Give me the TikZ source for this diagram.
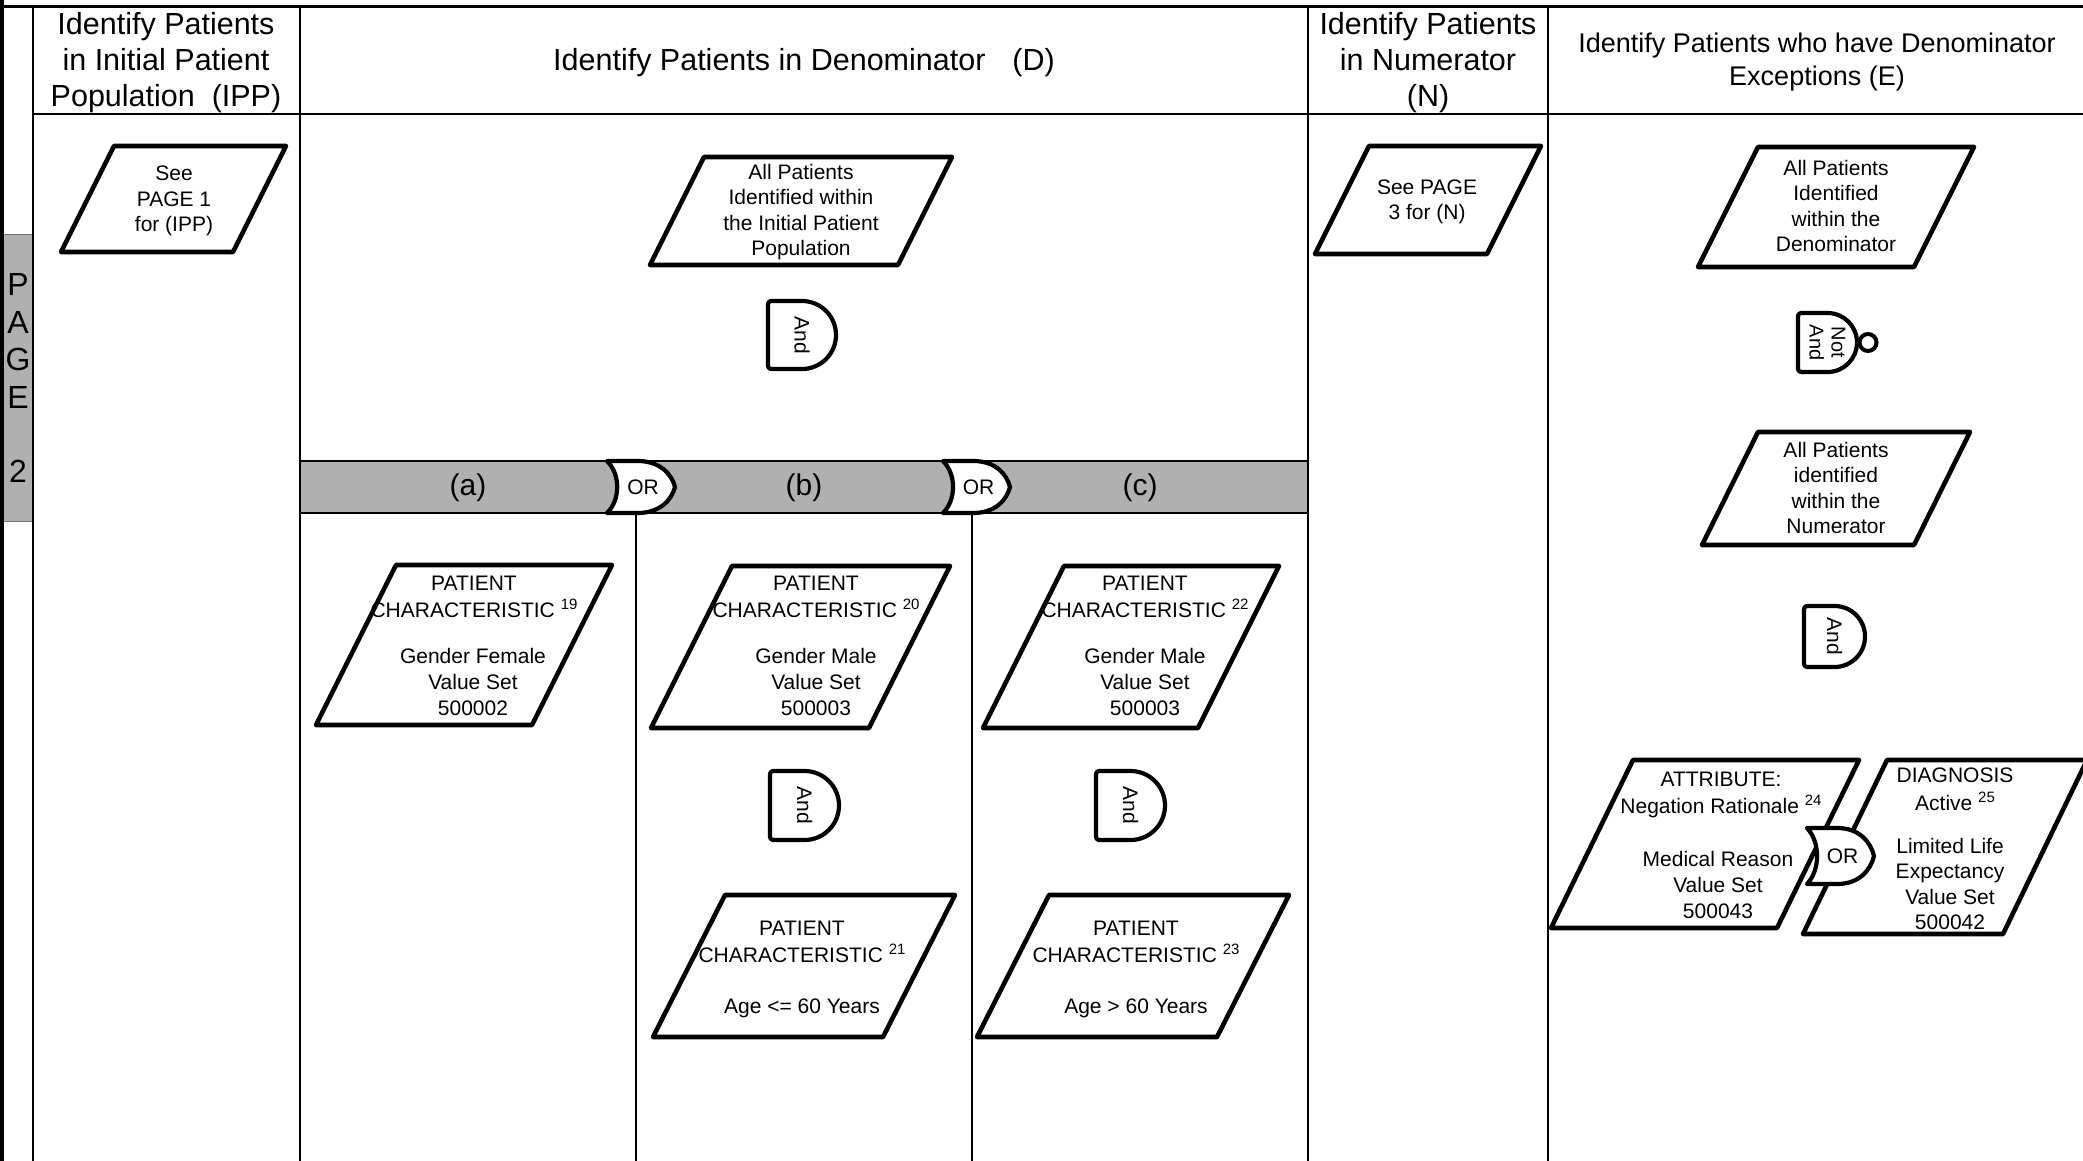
\documentclass[tikz,border=0pt]{standalone}
\usepackage{fontspec}
\setmainfont{Liberation Sans}
\definecolor{bandgray}{RGB}{176,176,176}
\newcommand\supnum[1]{\raisebox{8pt}{\fontsize{15}{15}\selectfont #1}}
% D-shaped AND gate: name, left, top, size
\newcommand\andgate[4]{%
  \pgfmathsetmacro\gtX{#2+#4/2}%
  \pgfmathsetmacro\gtY{#3+#4}%
  \pgfmathsetmacro\gtR{#4/2}%
  \draw[gateshape] (\gtX,#3) [rounded corners=3pt] -- (#2,#3) -- (#2,\gtY) [sharp corners] -- (\gtX,\gtY)
     arc[start angle=90, end angle=-90, radius=\gtR] -- cycle;
  \node[gatetext, rotate=-90] (#1) at (\gtX,#3+\gtR) {And};
}
% NAND gate with output bubble: name, left, top, size
\newcommand\nandgate[4]{%
  \pgfmathsetmacro\gtX{#2+#4/2}%
  \pgfmathsetmacro\gtY{#3+#4}%
  \pgfmathsetmacro\gtR{#4/2}%
  \draw[gateshape] (\gtX,#3) [rounded corners=3pt] -- (#2,#3) -- (#2,\gtY) [sharp corners] -- (\gtX,\gtY)
     arc[start angle=90, end angle=-90, radius=\gtR] -- cycle;
  \draw[line width=4pt, fill=white] (#2+#4+11,#3+\gtR) circle[radius=8.5];
  \node[gatetext, rotate=-90, align=center, font=\fontsize{20}{22}\selectfont] (#1) at (\gtX,#3+\gtR) {Not\\And};
}
% OR gate: name, left, top, width, height
\newcommand\orgate[5]{%
  \pgfmathsetmacro\gtR{#2+#4}%
  \pgfmathsetmacro\gtB{#3+#5}%
  \pgfmathsetmacro\gtM{#3+#5/2}%
  \pgfmathsetmacro\gtA{#2+0.45*#4}%
  \pgfmathsetmacro\gtC{#2+0.78*#4}%
  \pgfmathsetmacro\gtD{#2+0.95*#4}%
  \pgfmathsetmacro\gtU{#3+0.25*#5}%
  \pgfmathsetmacro\gtV{#3+0.75*#5}%
  \pgfmathsetmacro\gtK{#2+0.2*#4}%
  \draw[gateshape] (#2,#3) -- (\gtA,#3) .. controls (\gtC,#3) and (\gtD,\gtU) .. (\gtR,\gtM)
     .. controls (\gtD,\gtV) and (\gtC,\gtB) .. (\gtA,\gtB) -- (#2,\gtB)
     .. controls (\gtK,\gtV) and (\gtK,\gtU) .. (#2,#3) -- cycle;
  \node[gatetext] (#1) at (#2+0.53*#4,\gtM) {OR};
}
\begin{document}
\begin{tikzpicture}[x=1pt,y=-1pt,
  frame/.style={line width=2.5pt},
  subline/.style={line width=1.6pt},
  pbox/.style={draw, line width=4.6pt, line join=round, fill=white},
  gateshape/.style={draw, line width=4.2pt, line join=round, fill=white},
  head/.style={align=center, inner sep=0pt, font=\fontsize{30.5}{36}\selectfont},
  headE/.style={align=center, inner sep=0pt, font=\fontsize{27}{32.5}\selectfont},
  body/.style={align=center, inner sep=0pt, font=\fontsize{21}{25.6}\selectfont},
  bandlabel/.style={inner sep=0pt, font=\fontsize{30}{36}\selectfont},
  gatetext/.style={inner sep=0pt, font=\fontsize{21}{21}\selectfont},
  tabtext/.style={align=center, inner sep=0pt, font=\fontsize{32}{37.5}\selectfont},
]
\useasboundingbox (0,0) rectangle (2083,1161);
\fill[white] (0,0) rectangle (2083,1161);

% page tab on the left
\fill[bandgray] (3,235) rectangle (33,521);
\draw[line width=1pt, black!55] (3,235) -- (33,235) (3,521) -- (33,521);
\node[tabtext] (pagetab) at (18,378) {P\\A\\G\\E\\[37pt]2};

% shaded band of the denominator branches
\fill[bandgray] (300,461) rectangle (1308,513);
\draw[frame] (300,461) -- (1308,461) (300,513) -- (1308,513);

% swimlane frame
\draw[line width=4pt] (2,0) -- (2,1161);
\draw[line width=3pt] (0,6.5) -- (2083,6.5);
\draw[frame] (33,114) -- (2083,114);
\draw[frame] (33,6) -- (33,1161);
\draw[frame] (300,6) -- (300,1161);
\draw[frame] (1308,6) -- (1308,1161);
\draw[frame] (1548,6) -- (1548,1161);
\draw[subline] (636,513) -- (636,1161);
\draw[subline] (972,513) -- (972,1161);

% lane headings
\node[head] (hIPP) at (166,63) {Identify Patients\\in Initial Patient\\Population~~(IPP)};
\node[head] (hD) at (804,63) {Identify Patients in Denominator\hspace{27pt}(D)};
\node[head] (hN) at (1428,63) {Identify Patients\\in Numerator\\(N)};
\node[headE] (hE) at (1817,62) {Identify Patients who have Denominator\\Exceptions (E)};

% band labels
\node[bandlabel] (la) at (468,488) {(a)};
\node[bandlabel] (lb) at (804,488) {(b)};
\node[bandlabel] (lc) at (1140,488) {(c)};

% IPP lane
\draw[pbox] (61,252) -- (233,252) -- (286,146) -- (114,146) -- cycle;
\node[body] (ipp) at (174,201) {See\\PAGE 1\\for (IPP)};

% Denominator lane
\draw[pbox] (650,265) -- (898,265) -- (952,157) -- (704,157) -- cycle;
\node[body] (dall) at (801,212) {All Patients\\Identified within\\the Initial Patient\\Population};
\andgate{dand}{768}{301}{68}

\orgate{orab}{607}{461}{68}{52}
\orgate{orbc}{943}{461}{67}{52}

\draw[pbox] (316,725) -- (532,725) -- (612,565) -- (396,565) -- cycle;
\node[body] (aHead) at (474,597) {PATIENT\\[2pt]CHARACTERISTIC \supnum{19}};
\node[body] (aVal) at (473,682) {Gender Female\\Value Set\\500002};

\draw[pbox] (651,728) -- (869,728) -- (950,566) -- (732,566) -- cycle;
\node[body] (bHead) at (816,597) {PATIENT\\[2pt]CHARACTERISTIC \supnum{20}};
\node[body] (bVal) at (816,682) {Gender Male\\Value Set\\500003};
\andgate{band}{770}{771}{69}
\draw[pbox] (653,1037) -- (883,1037) -- (955,895) -- (725,895) -- cycle;
\node[body] (bAgeH) at (802,942) {PATIENT\\[2pt]CHARACTERISTIC \supnum{21}};
\node[body] (bAge) at (802,1008) {Age <= 60 Years};

\draw[pbox] (983,728) -- (1198,728) -- (1279,566) -- (1064,566) -- cycle;
\node[body] (cHead) at (1145,597) {PATIENT\\[2pt]CHARACTERISTIC \supnum{22}};
\node[body] (cVal) at (1145,682) {Gender Male\\Value Set\\500003};
\andgate{cand}{1096}{771}{69}
\draw[pbox] (977,1037) -- (1217,1037) -- (1289,895) -- (1049,895) -- cycle;
\node[body] (cAgeH) at (1136,942) {PATIENT\\[2pt]CHARACTERISTIC \supnum{23}};
\node[body] (cAge) at (1136,1008) {Age > 60 Years};

% Numerator lane
\draw[pbox] (1315,254) -- (1487,254) -- (1541,146) -- (1369,146) -- cycle;
\node[body] (nref) at (1427,202) {See PAGE\\3 for (N)};

% Exceptions lane
\draw[pbox] (1698,267) -- (1914,267) -- (1974,147) -- (1758,147) -- cycle;
\node[body] (eden) at (1836,206) {All Patients\\Identified\\within the\\Denominator};
\nandgate{enand}{1798}{313}{59}
\draw[pbox] (1702,545) -- (1914,545) -- (1970,432) -- (1758,432) -- cycle;
\node[body] (enum) at (1836,488) {All Patients\\identified\\within the\\Numerator};
\andgate{eand}{1804}{606}{61}

\draw[pbox] (1551,928) -- (1777,928) -- (1859,760) -- (1633,760) -- cycle;
\node[body] (attrH) at (1721,795) {ATTRIBUTE:\\[2pt]Negation Rationale \supnum{24}};
\node[body] (attrV) at (1718,885) {Medical Reason\\Value Set\\500043};
\draw[pbox] (1803,934) -- (2003,934) -- (2087,760) -- (1887,760) -- cycle;
\node[body] (diagH) at (1955,789) {DIAGNOSIS\\[2pt]Active \supnum{25}};
\node[body] (diagV) at (1950,884) {Limited Life\\Expectancy\\Value Set\\500042};
\orgate{eor}{1807}{828}{67}{56}
\end{tikzpicture}
\end{document}
